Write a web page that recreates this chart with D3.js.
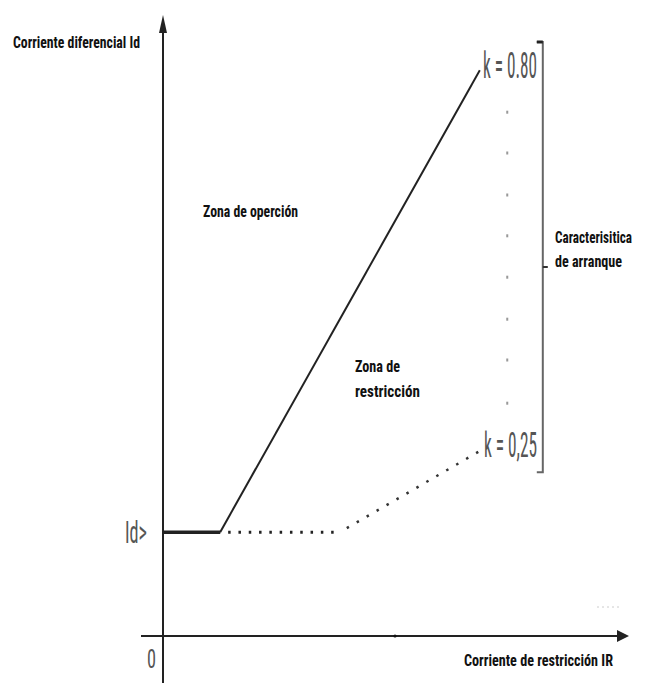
<!DOCTYPE html>
<html><head><meta charset="utf-8">
<script src="https://cdn.jsdelivr.net/npm/d3@7"></script>
<style>body{margin:0;background:#fff}svg{display:block}</style>
</head><body>
<svg id="c" width="646" height="683"></svg>
<script>
// ---- data (schematic units) ----
const pickup = 1.73;                       // Id>
const solidFlat = [[0, 1.73], [1.27, 1.73]];
const solidSlope = [[1.27, 1.73], [7.04, 9.43]];   // k = 0.80
const dottedLine = [[1.27, 1.73], [3.93, 1.73], [7.08, 3.1]]; // k = 0,25
const dotColumnX = 7.65;
const dotColumnY = [8.73, 8.05, 7.35, 6.67, 5.98, 5.28, 4.6, 3.88];
const bracketX = 8.44, bracketTop = 9.9, bracketBottom = 2.73, bracketMid = 6.15;
const kLabels = ["k = 0.80", "k = 0,25"];

const svg = d3.select("#c");
const x = d3.scaleLinear().domain([0, 10]).range([163, 613]);
const y = d3.scaleLinear().domain([0, 10]).range([636, 36]);
const line = d3.line().x(d => x(d[0])).y(d => y(d[1]));
const font = "'Liberation Sans Narrow','Roboto Condensed','Liberation Sans',Roboto,sans-serif";

// axes
const axisCol = "#222";
svg.append("line").attr("x1", x(0)).attr("x2", x(0)).attr("y1", 24).attr("y2", 683)
  .attr("stroke", axisCol).attr("stroke-width", 2);
svg.append("path").attr("d", `M${x(0)},15 L${x(0)-4},33 L${x(0)+4},33 Z`).attr("fill", axisCol);
svg.append("line").attr("x1", 141).attr("x2", 620).attr("y1", y(0)).attr("y2", y(0))
  .attr("stroke", axisCol).attr("stroke-width", 2);
svg.append("path").attr("d", `M629,${y(0)} L617,${y(0)-6} L617,${y(0)+6} Z`).attr("fill", axisCol);
// tiny marks
svg.append("circle").attr("cx", 395).attr("cy", y(0)).attr("r", 1.6).attr("fill", "#111");
svg.append("line").attr("x1", 597).attr("x2", 622).attr("y1", 607).attr("y2", 607)
  .attr("stroke", "#ccc").attr("stroke-width", 1).attr("stroke-dasharray", "2 3");

// solid characteristic
svg.append("path").attr("d", line(solidFlat)).attr("stroke", "#222").attr("stroke-width", 3.5).attr("fill", "none");
svg.append("path").attr("d", line(solidSlope)).attr("stroke", "#222").attr("stroke-width", 2).attr("fill", "none");
// dotted characteristic
svg.append("path").attr("d", line(dottedLine.slice(0, 2))).attr("stroke", "#222").attr("stroke-width", 3)
  .attr("fill", "none").attr("stroke-dasharray", "2.5 7.8").attr("stroke-dashoffset", -8);
svg.append("path").attr("d", line(dottedLine.slice(1))).attr("stroke", "#333").attr("stroke-width", 2.5)
  .attr("fill", "none").attr("stroke-dasharray", "2.5 9").attr("stroke-dashoffset", -8);

// dotted column between k values
svg.selectAll("rect.dot").data(dotColumnY).join("rect").attr("class", "dot")
  .attr("x", x(dotColumnX) - 1).attr("y", d => y(d) - 1.5).attr("width", 2).attr("height", 3)
  .attr("fill", "#999");

// bracket
const bx = x(bracketX);
svg.append("path")
  .attr("d", `M${bx-6},${y(bracketTop)} H${bx} V${y(bracketBottom)} H${bx-6}`)
  .attr("stroke", "#666").attr("stroke-width", 2).attr("fill", "none");
svg.append("rect").attr("x", bx - 6).attr("y", y(bracketTop) - 1.5).attr("width", 6).attr("height", 3).attr("fill", "#222");
svg.append("line").attr("x1", bx).attr("x2", bx + 5).attr("y1", y(bracketMid)).attr("y2", y(bracketMid))
  .attr("stroke", "#333").attr("stroke-width", 2);

// text
function txt(s, tx, ty, size, len, opts = {}) {
  svg.append("text").attr("x", tx).attr("y", ty).text(s)
    .attr("font-family", font).attr("font-size", size)
    .attr("font-weight", opts.weight || "bold").attr("fill", opts.fill || "#111")
    .attr("textLength", len).attr("lengthAdjust", "spacingAndGlyphs");
}
txt("Corriente diferencial Id", 13, 48, 16, 127);
txt("Zona de operción", 203, 217, 16, 95);
txt("Zona de", 355, 372, 17, 45);
txt("restricción", 355, 397, 17, 65);
txt("Caracterisitica", 555, 243, 16, 77);
txt("de arranque", 555, 267, 16, 67);
txt("Corriente de restricción IR", 464, 666, 16, 149);
txt(kLabels[0], 483, y(solidSlope[1][1]) + 8, 36, 54, {weight: "normal", fill: "#555"});
txt(kLabels[1], 484, 457, 35, 53, {weight: "normal", fill: "#555"});
txt("Id>", 125, y(pickup) + 11, 32, 22, {weight: "normal", fill: "#555"});
txt("0", 147, 668, 26, 9, {weight: "normal", fill: "#555"});
</script>
</body></html>
